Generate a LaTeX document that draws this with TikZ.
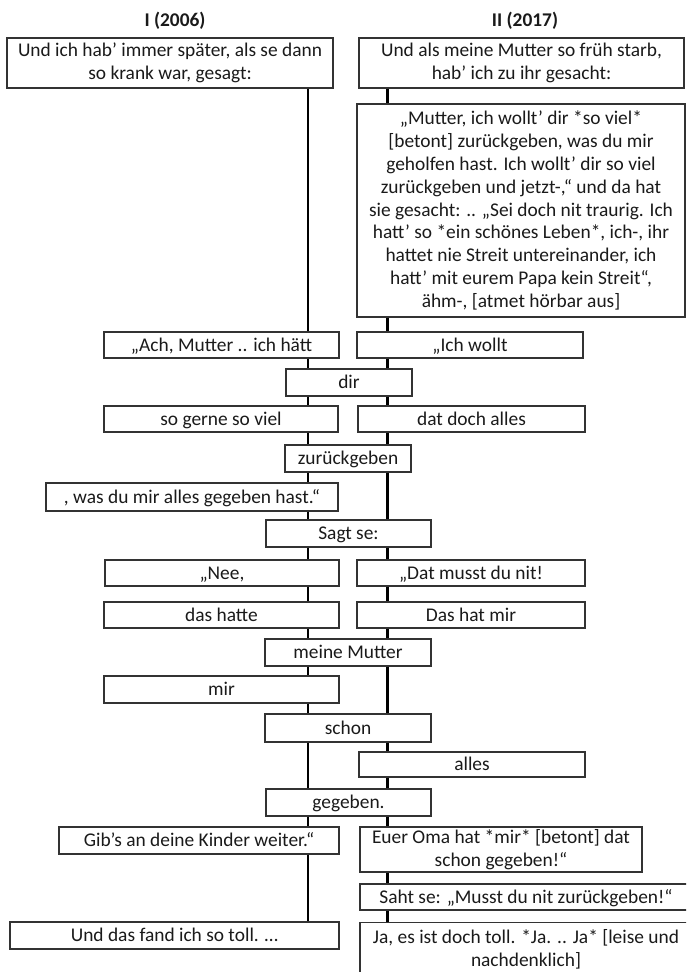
\documentclass[tikz,border=0pt]{standalone}
\usepackage{fontspec}
\setmainfont{Carlito}
\definecolor{boxc}{HTML}{333333}
\definecolor{txt}{HTML}{1A1A1A}
\tikzset{
  tbox/.style={draw=boxc, line width=1.3pt, fill=white, inner sep=0pt, align=center,
    font=\fontsize{19.4}{22.8}\selectfont, text=txt},
  sl/.style={tbox, text height=12.5pt, text depth=0.5pt},
  ttl/.style={font=\fontsize{19.4}{22.8}\selectfont\bfseries, text=txt, inner sep=0pt},
  conn/.style={line width=2.8pt, draw=black},
}
\begin{document}
\begin{tikzpicture}[x=1pt,y=-1pt]
\useasboundingbox (0,0) rectangle (686,972);
\fill[white] (0,0) rectangle (686,972);
\clip (0,0) rectangle (686,972);
\coordinate (xL) at (308,0);
\coordinate (xR) at (387.5,0);

\node[ttl] (t1) at (175,21) {I (2006)};
\node[ttl] (t2) at (525,21) {II (2017)};

\node[tbox, minimum width=326pt, minimum height=50pt] (L1) at (170,63) {Und ich hab’ immer später, als se dann\\so krank war, gesagt:};
\node[tbox, minimum width=325pt, minimum height=50pt] (R1) at (521.5,63) {Und als meine Mutter so früh starb,\\hab’ ich zu ihr gesacht:};
\node[tbox, minimum width=328pt, minimum height=213pt] (R2) at (521,210.5) {„Mutter, ich wollt’ dir *so viel*\\{[}betont{]} zurückgeben, was du mir\\geholfen hast. Ich wollt’ dir so viel\\zurückgeben und jetzt-,“ und da hat\\sie gesacht: .. „Sei doch nit traurig. Ich\\hatt’ so *ein schönes Leben*, ich-, ihr\\hattet nie Streit untereinander, ich\\hatt’ mit eurem Papa kein Streit“,\\ähm-, {[}atmet hörbar aus{]}};

\node[sl, minimum width=235pt, minimum height=26pt] (ach) at (221.5,345) {„Ach, Mutter .. ich hätt};
\node[sl, minimum width=226pt, minimum height=26pt] (ich) at (470,345) {„Ich wollt};
\node[sl, minimum width=126pt, minimum height=27pt] (dir) at (349,382.5) {dir};
\node[sl, minimum width=234pt, minimum height=26pt] (sog) at (221,419) {so gerne so viel};
\node[sl, minimum width=227pt, minimum height=26pt] (dat) at (471.5,419) {dat doch alles};
\node[sl, minimum width=126pt, minimum height=27pt] (zur) at (348,458.5) {zurückgeben};
\node[sl, minimum width=292pt, minimum height=28pt] (was) at (192,497) {, was du mir alles gegeben hast.“};
\node[sl, minimum width=165pt, minimum height=27pt] (sagt) at (348.5,533.5) {Sagt se:};
\node[sl, minimum width=234pt, minimum height=26pt] (nee) at (222,573) {„Nee,};
\node[sl, minimum width=228pt, minimum height=26pt] (mus) at (471,573) {„Dat musst du nit!};
\node[sl, minimum width=235pt, minimum height=26pt] (dhatte) at (221.5,615) {das hatte};
\node[sl, minimum width=228pt, minimum height=26pt] (dhat) at (471,615) {Das hat mir};
\node[sl, minimum width=166pt, minimum height=27pt] (mutter) at (348,652.5) {meine Mutter};
\node[sl, minimum width=235pt, minimum height=27pt] (mir) at (221.5,689.5) {mir};
\node[sl, minimum width=166pt, minimum height=28pt] (schon) at (348,728) {schon};
\node[sl, minimum width=226pt, minimum height=25pt] (alles) at (472,764.5) {alles};
\node[sl, minimum width=165pt, minimum height=27pt] (geg) at (348.5,802.5) {gegeben.};
\node[sl, minimum width=280pt, minimum height=27pt] (gib) at (199,840.5) {Gib’s an deine Kinder weiter.“};
\node[tbox, minimum width=282pt, minimum height=45pt] (oma) at (501,849.5) {Euer Oma hat *mir* {[}betont{]} dat\\schon gegeben!“};
\node[sl, minimum width=332pt, minimum height=26pt] (saht) at (526,897) {Saht se: „Musst du nit zurückgeben!“};
\node[sl, minimum width=329pt, minimum height=27pt] (und) at (174.5,935.5) {Und das fand ich so toll. …};
\node[tbox, minimum width=332pt, minimum height=54pt, anchor=north] (ja) at (526,922) {Ja, es ist doch toll. *Ja. .. Ja* {[}leise und\\nachdenklich{]}};

\foreach \a/\b in {L1/ach, ach/dir, dir/sog, sog/zur, zur/was, was/sagt, sagt/nee, nee/dhatte, dhatte/mutter, mutter/mir, mir/schon, schon/geg, geg/gib, gib/und}
  \draw[conn] (\a.south -| xL) -- (\b.north -| xL);
\foreach \a/\b in {R1/R2, R2/ich, ich/dir, dir/dat, dat/zur, zur/sagt, sagt/mus, mus/dhat, dhat/mutter, mutter/schon, schon/alles, alles/geg, geg/oma, oma/saht, saht/ja}
  \draw[conn] (\a.south -| xR) -- (\b.north -| xR);
\end{tikzpicture}
\end{document}
